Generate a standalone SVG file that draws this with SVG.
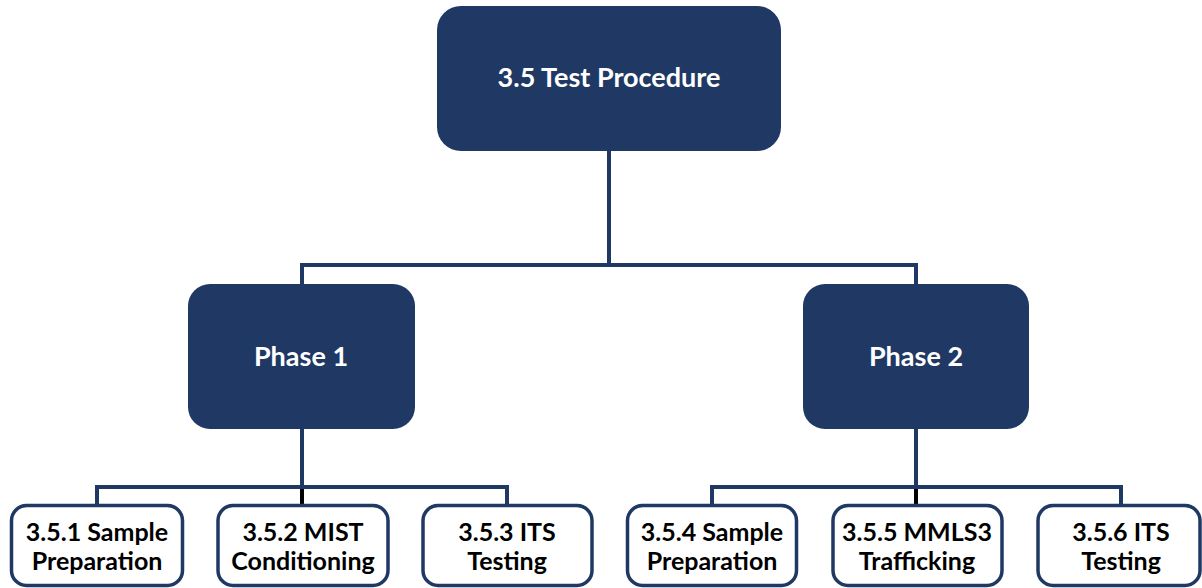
<svg xmlns="http://www.w3.org/2000/svg" width="1202" height="588" viewBox="0 0 1202 588">
<style>
.dark{fill:#203864;stroke:none}
.leaf{fill:#ffffff;stroke:#203864;stroke-width:3.5}
.tw{font-family:Lato,"Open Sans",sans-serif;font-weight:700;fill:#ffffff;text-anchor:middle}
.tb{font-family:Lato,"Open Sans",sans-serif;font-weight:700;fill:#000000;text-anchor:middle;font-size:25px}
.conn{fill:none;stroke:#203864;stroke-width:4}
.blk{fill:none;stroke:#000000;stroke-width:4}
</style>
<rect width="1202" height="588" fill="#ffffff"/>
<g id="connectors">
<path class="conn" d="M609 151 V265 M300 265 H918 M302 265 V285 M916 265 V285"/>
<path class="conn" d="M302 429 V487 M95 487 H509 M97 487 V505 M507 487 V505"/>
<path class="conn" d="M916 429 V487 M710 487 H1123 M712 487 V505 M1121 487 V505"/>
<path class="blk" d="M302 489 V504 M916 489 V504"/>
</g>
<g id="n-root">
<rect class="dark" x="437" y="6" width="344" height="145" rx="24"/>
<text class="tw" x="609" y="87" font-size="27">3.5 Test Procedure</text>
</g>
<g id="n-phase1">
<rect class="dark" x="188" y="284" width="227" height="145" rx="22"/>
<text class="tw" x="301" y="366" font-size="27">Phase 1</text>
</g>
<g id="n-phase2">
<rect class="dark" x="803" y="284" width="226" height="145" rx="22"/>
<text class="tw" x="916" y="366" font-size="27">Phase 2</text>
</g>
<g id="n-351">
<rect class="leaf" x="11.5" y="505.5" width="171" height="80" rx="15"/>
<text class="tb" x="97" y="541">3.5.1 Sample</text>
<text class="tb" x="97" y="570">Preparation</text>
</g>
<g id="n-352">
<rect class="leaf" x="218" y="505.5" width="170" height="80" rx="15"/>
<text class="tb" x="303" y="541">3.5.2 MIST</text>
<text class="tb" x="303" y="570">Conditioning</text>
</g>
<g id="n-353">
<rect class="leaf" x="423" y="505.5" width="169" height="80" rx="15"/>
<text class="tb" x="507" y="541">3.5.3 ITS</text>
<text class="tb" x="507" y="570">Testing</text>
</g>
<g id="n-354">
<rect class="leaf" x="627.5" y="505.5" width="169" height="80" rx="15"/>
<text class="tb" x="712" y="541">3.5.4 Sample</text>
<text class="tb" x="712" y="570">Preparation</text>
</g>
<g id="n-355">
<rect class="leaf" x="833" y="505.5" width="169" height="80" rx="15"/>
<text class="tb" x="917" y="541">3.5.5 MMLS3</text>
<text class="tb" x="917" y="570">Trafficking</text>
</g>
<g id="n-356">
<rect class="leaf" x="1038" y="505.5" width="162" height="80" rx="15"/>
<text class="tb" x="1121" y="541">3.5.6 ITS</text>
<text class="tb" x="1121" y="570">Testing</text>
</g>
</svg>
